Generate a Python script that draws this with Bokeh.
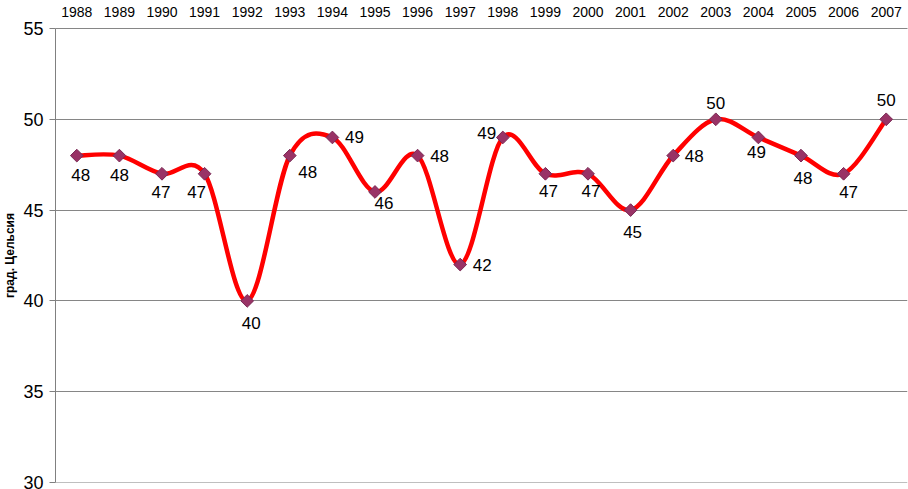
from bokeh.plotting import figure
from bokeh.models import Range1d, FixedTicker, ColumnDataSource, Span
from bokeh.embed import file_html
from bokeh.resources import INLINE
from bokeh.core.properties import value
import math

years = [1988, 1989, 1990, 1991, 1992, 1993, 1994, 1995, 1996, 1997,
         1998, 1999, 2000, 2001, 2002, 2003, 2004, 2005, 2006, 2007]
temps = [48, 48, 47, 47, 40, 48, 49, 46, 48, 42,
         49, 47, 47, 45, 48, 50, 49, 48, 47, 50]
y_ticks = [30, 35, 40, 45, 50, 55]
y_label = "град. Цельсия"

# label placement (screen pixel offsets), style only
label_dx = [4, 0, -1, -8, 4, 18, 22, 9, 22, 22, -16, 3, 3, 2, 21, 0, -2, 2, 5, 0]
label_dy = [19, 19, 18, 18, 22, 16, 0, 11, 0, 0, -4, 17, 17, 22, 0, -16, 15, 22, 18, -19]

FONT = "Liberation Sans"

p = figure(width=908, height=489, output_backend="svg", toolbar_location=None,
           x_range=Range1d(1987.5, 2007.5), y_range=Range1d(30, 55),
           x_axis_location="above", y_axis_location="left",
           min_border_left=53, min_border_right=1, min_border_top=28, min_border_bottom=7)
p.outline_line_color = None
p.background_fill_color = "white"
p.border_fill_color = "white"

# x axis on top
xa = p.xaxis[0]
xa.ticker = FixedTicker(ticks=years)
xa.major_tick_out = 0
xa.major_tick_in = 0
xa.minor_tick_out = 0
xa.minor_tick_in = 0
xa.axis_line_color = "#868686"
xa.major_label_text_font = FONT
xa.major_label_text_font_size = "14px"
xa.major_label_text_color = "black"
xa.major_label_standoff = 12

# y axis
ya = p.yaxis[0]
ya.ticker = FixedTicker(ticks=y_ticks)
ya.major_tick_out = 6
ya.major_tick_in = 0
ya.minor_tick_out = 0
ya.minor_tick_in = 0
ya.axis_line_color = "#808080"
ya.major_tick_line_color = "#808080"
ya.major_label_text_font = FONT
ya.major_label_text_font_size = "18px"
ya.major_label_text_color = "black"
ya.major_label_standoff = 6
ya.axis_label = y_label
ya.axis_label_text_font = FONT
ya.axis_label_text_font_size = "12px"
ya.axis_label_text_font_style = "bold"
ya.axis_label_text_color = "black"
ya.axis_label_standoff = 3

p.xgrid.visible = False
p.ygrid.ticker = FixedTicker(ticks=y_ticks)
p.ygrid.grid_line_color = "#868686"
p.ygrid.grid_line_width = 1
p.add_layout(Span(location=y_ticks[0], dimension="width", line_color="#808080", line_width=1))

# smooth curve (Catmull-Rom style bezier segments, like Excel smoothing)
n = len(years)
x0s, y0s, x1s, y1s, cx0s, cy0s, cx1s, cy1s = [], [], [], [], [], [], [], []
for i in range(n - 1):
    im = max(i - 1, 0)
    ip2 = min(i + 2, n - 1)
    x0s.append(years[i]); y0s.append(temps[i])
    x1s.append(years[i + 1]); y1s.append(temps[i + 1])
    cx0s.append(years[i] + (years[i + 1] - years[im]) / 6)
    cy0s.append(temps[i] + (temps[i + 1] - temps[im]) / 6)
    cx1s.append(years[i + 1] - (years[ip2] - years[i]) / 6)
    cy1s.append(temps[i + 1] - (temps[ip2] - temps[i]) / 6)
p.bezier(x0=x0s, y0=y0s, x1=x1s, y1=y1s, cx0=cx0s, cy0=cy0s, cx1=cx1s, cy1=cy1s,
         line_color="#FF0000", line_width=4.5)

src = ColumnDataSource(dict(x=years, y=temps, lab=[str(t) for t in temps],
                            dx=label_dx, dy=label_dy))
p.scatter("x", "y", source=src, marker="square", size=9, angle=math.pi / 4,
          fill_color="#993366", line_color="#7a2a55", line_width=1)
p.text("x", "y", text="lab", source=src, x_offset="dx", y_offset="dy",
       text_font=value(FONT), text_font_size="17px", text_color="black",
       text_align="center", text_baseline="middle")

open("out.html", "w").write(file_html(p, INLINE))
